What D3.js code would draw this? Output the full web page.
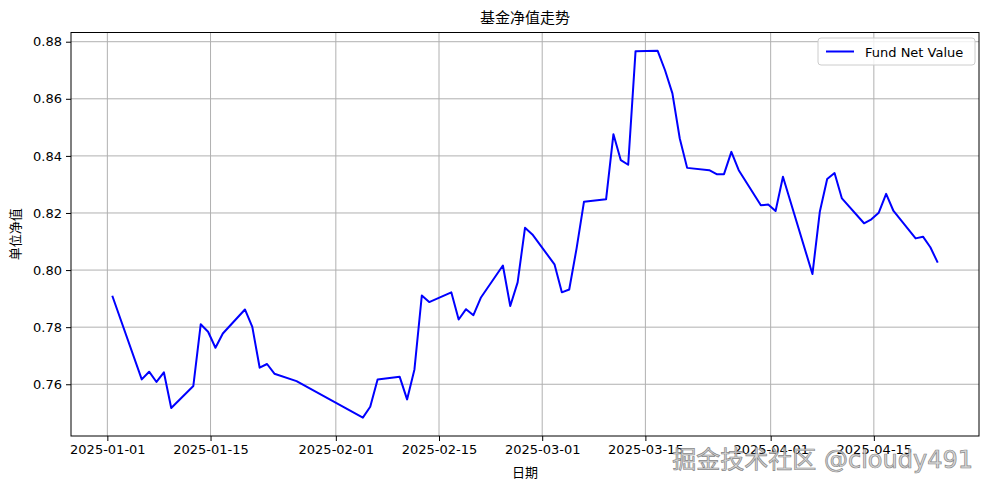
<!DOCTYPE html>
<html>
<head>
<meta charset="utf-8">
<script src="https://cdn.jsdelivr.net/npm/d3@7"></script>
<style>
  html, body { margin: 0; padding: 0; background: #fff; }
  svg { display: block; }
</style>
</head>
<body>
<svg id="chart" width="990" height="490"></svg>
<script>
// ---- data (trading dates, Beijing time) ----
const dates = [
  "2025-01-02","2025-01-06","2025-01-07","2025-01-08","2025-01-09","2025-01-10",
  "2025-01-13","2025-01-14","2025-01-15","2025-01-16","2025-01-17",
  "2025-01-20","2025-01-21","2025-01-22","2025-01-23","2025-01-24",
  "2025-01-27",
  "2025-02-05","2025-02-06","2025-02-07",
  "2025-02-10","2025-02-11","2025-02-12","2025-02-13","2025-02-14",
  "2025-02-17","2025-02-18","2025-02-19","2025-02-20","2025-02-21",
  "2025-02-24","2025-02-25","2025-02-26","2025-02-27","2025-02-28",
  "2025-03-03","2025-03-04","2025-03-05","2025-03-06","2025-03-07",
  "2025-03-10","2025-03-11","2025-03-12","2025-03-13","2025-03-14",
  "2025-03-17","2025-03-18","2025-03-19","2025-03-20","2025-03-21",
  "2025-03-24","2025-03-25","2025-03-26","2025-03-27","2025-03-28",
  "2025-03-31","2025-04-01","2025-04-02","2025-04-03",
  "2025-04-07","2025-04-08","2025-04-09","2025-04-10","2025-04-11",
  "2025-04-14","2025-04-15","2025-04-16","2025-04-17","2025-04-18",
  "2025-04-21","2025-04-22","2025-04-23","2025-04-24"
];
const netValues = [
  0.7910,0.7617,0.7644,0.7608,0.7642,0.7517,
  0.7594,0.7810,0.7784,0.7728,0.7778,
  0.7862,0.7801,0.7658,0.7671,0.7637,
  0.7611,
  0.7483,0.7521,0.7617,
  0.7626,0.7547,0.7652,0.7911,0.7888,
  0.7922,0.7827,0.7863,0.7842,0.7903,
  0.8016,0.7874,0.7957,0.8148,0.8125,
  0.8020,0.7922,0.7932,0.8076,0.8239,
  0.8248,0.8476,0.8385,0.8369,0.8767,
  0.8768,0.8700,0.8619,0.8461,0.8358,
  0.8350,0.8336,0.8336,0.8414,0.8350,
  0.8227,0.8230,0.8207,0.8327,
  0.7986,0.8204,0.8319,0.8340,0.8251,
  0.8164,0.8178,0.8201,0.8267,0.8207,
  0.8111,0.8117,0.8080,0.8026
];
const seriesName = "Fund Net Value";
const xTickLabels = ["2025-01-01","2025-01-15","2025-02-01","2025-02-15","2025-03-01","2025-03-15","2025-04-01","2025-04-15"];
const yTickValues = [0.76,0.78,0.80,0.82,0.84,0.86,0.88];
const titleText = "基金净值走势";
const xLabelText = "日期";
const yLabelText = "单位净值";
const watermarkText = "掘金技术社区 @cloudy491";

// ---- layout ----
const W = 990, H = 490;
const plot = { left: 71, right: 979, top: 32.5, bottom: 436 };
const svg = d3.select("#chart");
const font = "'DejaVu Sans', sans-serif";
const cjk = "'Noto Sans CJK SC', 'DejaVu Sans', sans-serif";
const mixed = "'DejaVu Sans', 'Noto Sans CJK SC', sans-serif";

const data = dates.map((d, i) => ({ t: new Date(d + "T00:00:00+08:00"), v: netValues[i] }));

// matplotlib-style 5% margins
const tExt = d3.extent(data, d => +d.t);
const tPad = (tExt[1] - tExt[0]) * 0.05;
const vExt = d3.extent(data, d => d.v);
const vPad = (vExt[1] - vExt[0]) * 0.05;

const x = d3.scaleUtc().domain([new Date(tExt[0] - tPad), new Date(tExt[1] + tPad)]).range([plot.left, plot.right]);
const y = d3.scaleLinear().domain([vExt[0] - vPad, vExt[1] + vPad]).range([plot.bottom, plot.top]);

const xTicks = xTickLabels.map(s => new Date(s + "T00:00:00Z"));

// grid
const grid = svg.append("g");
grid.selectAll("line.gx").data(xTicks).join("line")
  .attr("x1", d => x(d)).attr("x2", d => x(d))
  .attr("y1", plot.top).attr("y2", plot.bottom)
  .attr("stroke", "#b0b0b0").attr("stroke-width", 1);
grid.selectAll("line.gy").data(yTickValues).join("line")
  .attr("x1", plot.left).attr("x2", plot.right)
  .attr("y1", d => y(d)).attr("y2", d => y(d))
  .attr("stroke", "#b0b0b0").attr("stroke-width", 1);

// line
const line = d3.line().x(d => x(d.t)).y(d => y(d.v));
svg.append("path").datum(data)
  .attr("d", line)
  .attr("fill", "none")
  .attr("stroke", "#0000ff")
  .attr("stroke-width", 2)
  .attr("stroke-linejoin", "round");

// axes
const xAxis = d3.axisBottom(x).tickValues(xTicks)
  .tickFormat((d, i) => xTickLabels[i]).tickSize(5).tickPadding(4);
const gx = svg.append("g").attr("transform", `translate(0,${plot.bottom})`).call(xAxis);
const yAxis = d3.axisLeft(y).tickValues(yTickValues)
  .tickFormat(d3.format(".2f")).tickSize(5).tickPadding(4);
const gy = svg.append("g").attr("transform", `translate(${plot.left},0)`).call(yAxis);
[gx, gy].forEach(g => {
  g.select(".domain").remove();
  g.selectAll(".tick line").attr("stroke", "#000").attr("stroke-width", 1);
  g.selectAll(".tick text").attr("fill", "#000").style("font-family", font).style("font-size", "13px");
});

// frame
svg.append("rect")
  .attr("x", plot.left).attr("y", plot.top)
  .attr("width", plot.right - plot.left).attr("height", plot.bottom - plot.top)
  .attr("fill", "none").attr("stroke", "#000").attr("stroke-width", 1);

// title and labels
svg.append("text").attr("x", (plot.left + plot.right) / 2).attr("y", 23)
  .attr("text-anchor", "middle").style("font-family", cjk).style("font-size", "15px")
  .attr("fill", "#000").text(titleText);
svg.append("text").attr("x", (plot.left + plot.right) / 2).attr("y", 477)
  .attr("text-anchor", "middle").style("font-family", cjk).style("font-size", "13px")
  .attr("fill", "#000").text(xLabelText);
svg.append("text")
  .attr("transform", `translate(20,${(plot.top + plot.bottom) / 2}) rotate(-90)`)
  .attr("text-anchor", "middle").style("font-family", cjk).style("font-size", "13px")
  .attr("fill", "#000").text(yLabelText);

// legend
const lg = svg.append("g").attr("transform", "translate(818,38)");
lg.append("rect").attr("width", 157).attr("height", 27).attr("rx", 3)
  .attr("fill", "#fff").attr("fill-opacity", 0.8)
  .attr("stroke", "#cccccc").attr("stroke-width", 1);
lg.append("line").attr("x1", 8).attr("x2", 36).attr("y1", 13.5).attr("y2", 13.5)
  .attr("stroke", "#0000ff").attr("stroke-width", 2);
lg.append("text").attr("x", 47).attr("y", 18.5)
  .style("font-family", font).style("font-size", "13px").attr("fill", "#000").text(seriesName);

// watermark
svg.append("text").attr("x", 973).attr("y", 468).attr("text-anchor", "end")
  .style("font-family", mixed).style("font-size", "24px")
  .attr("fill", "#d4d4d4").attr("stroke", "#7a7a7a").attr("stroke-width", 0.7)
  .attr("opacity", 0.9)
  .text(watermarkText);
</script>
</body>
</html>
